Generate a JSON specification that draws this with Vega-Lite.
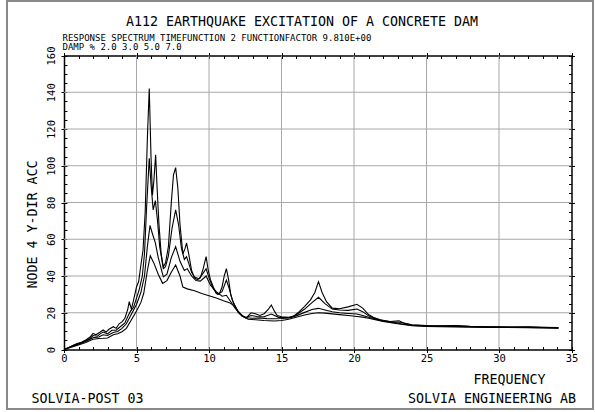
{
  "$schema": "https://vega.github.io/schema/vega-lite/v6.json",
  "autosize": {"type": "none"},
  "width": 586,
  "height": 408,
  "padding": {"left": 7, "top": 1, "right": 2, "bottom": 3},
  "background": "white",
  "config": {
    "font": "DejaVu Sans Mono",
    "view": {"stroke": "#8a8a8a", "strokeWidth": 2},
    "axis": {
      "labelFont": "DejaVu Sans Mono",
      "titleFont": "DejaVu Sans Mono",
      "labelColor": "black",
      "titleColor": "black",
      "tickColor": "black",
      "domainColor": "black",
      "domainWidth": 1.5,
      "tickWidth": 1,
      "grid": false,
      "labelOverlap": false,
      "labelFlush": false,
      "titleFontWeight": "normal",
      "titlePadding": 0
    }
  },
  "title": {
    "text": "A112 EARTHQUAKE EXCITATION OF A CONCRETE DAM",
    "anchor": "middle",
    "frame": "group",
    "offset": -38,
    "baseline": "alphabetic",
    "font": "DejaVu Sans Mono",
    "fontSize": 13.3,
    "fontWeight": "normal",
    "color": "black",
    "dx": 2
  },
  "datasets": {
    "spectra": [
      {"f": 0, "a": 0, "d": "2.0"}, {"f": 0.3, "a": 1, "d": "2.0"}, {"f": 0.6, "a": 2.2, "d": "2.0"}, {"f": 0.9, "a": 3.2, "d": "2.0"},
      {"f": 1.2, "a": 4, "d": "2.0"}, {"f": 1.5, "a": 5.2, "d": "2.0"}, {"f": 1.8, "a": 6.8, "d": "2.0"}, {"f": 2.0, "a": 8.8, "d": "2.0"},
      {"f": 2.2, "a": 8, "d": "2.0"}, {"f": 2.5, "a": 9.5, "d": "2.0"}, {"f": 2.7, "a": 10.6, "d": "2.0"}, {"f": 2.9, "a": 9.5, "d": "2.0"},
      {"f": 3.1, "a": 11, "d": "2.0"}, {"f": 3.4, "a": 12.4, "d": "2.0"}, {"f": 3.6, "a": 11.5, "d": "2.0"}, {"f": 3.8, "a": 14, "d": "2.0"},
      {"f": 4.0, "a": 15, "d": "2.0"}, {"f": 4.2, "a": 17, "d": "2.0"}, {"f": 4.4, "a": 22, "d": "2.0"}, {"f": 4.5, "a": 26, "d": "2.0"},
      {"f": 4.65, "a": 22, "d": "2.0"}, {"f": 4.8, "a": 27, "d": "2.0"}, {"f": 5.0, "a": 34, "d": "2.0"}, {"f": 5.15, "a": 37, "d": "2.0"},
      {"f": 5.25, "a": 43, "d": "2.0"}, {"f": 5.45, "a": 54, "d": "2.0"}, {"f": 5.6, "a": 75, "d": "2.0"}, {"f": 5.75, "a": 115, "d": "2.0"},
      {"f": 5.88, "a": 142, "d": "2.0"}, {"f": 6.0, "a": 105, "d": "2.0"}, {"f": 6.1, "a": 84, "d": "2.0"}, {"f": 6.2, "a": 92, "d": "2.0"},
      {"f": 6.32, "a": 106, "d": "2.0"}, {"f": 6.42, "a": 88, "d": "2.0"}, {"f": 6.55, "a": 68, "d": "2.0"}, {"f": 6.7, "a": 52, "d": "2.0"},
      {"f": 6.85, "a": 45, "d": "2.0"}, {"f": 7.0, "a": 47, "d": "2.0"}, {"f": 7.2, "a": 56, "d": "2.0"}, {"f": 7.4, "a": 80, "d": "2.0"},
      {"f": 7.55, "a": 95, "d": "2.0"}, {"f": 7.7, "a": 99, "d": "2.0"}, {"f": 7.85, "a": 88, "d": "2.0"}, {"f": 8.0, "a": 68, "d": "2.0"},
      {"f": 8.2, "a": 52, "d": "2.0"}, {"f": 8.35, "a": 55, "d": "2.0"}, {"f": 8.45, "a": 58, "d": "2.0"}, {"f": 8.6, "a": 52, "d": "2.0"},
      {"f": 8.8, "a": 43, "d": "2.0"}, {"f": 9.0, "a": 39, "d": "2.0"}, {"f": 9.2, "a": 38, "d": "2.0"}, {"f": 9.4, "a": 39, "d": "2.0"},
      {"f": 9.6, "a": 44, "d": "2.0"}, {"f": 9.8, "a": 50.5, "d": "2.0"}, {"f": 9.95, "a": 43, "d": "2.0"}, {"f": 10.1, "a": 38, "d": "2.0"},
      {"f": 10.3, "a": 34, "d": "2.0"}, {"f": 10.5, "a": 30.5, "d": "2.0"}, {"f": 10.7, "a": 30, "d": "2.0"}, {"f": 10.9, "a": 34, "d": "2.0"},
      {"f": 11.05, "a": 40, "d": "2.0"}, {"f": 11.2, "a": 44, "d": "2.0"}, {"f": 11.35, "a": 38, "d": "2.0"}, {"f": 11.5, "a": 30, "d": "2.0"},
      {"f": 11.7, "a": 25, "d": "2.0"}, {"f": 12.0, "a": 20.5, "d": "2.0"}, {"f": 12.3, "a": 18, "d": "2.0"}, {"f": 12.6, "a": 17.5, "d": "2.0"},
      {"f": 12.9, "a": 20, "d": "2.0"}, {"f": 13.2, "a": 19.5, "d": "2.0"}, {"f": 13.5, "a": 18.5, "d": "2.0"}, {"f": 13.8, "a": 19.5, "d": "2.0"},
      {"f": 14.1, "a": 22, "d": "2.0"}, {"f": 14.3, "a": 24.2, "d": "2.0"}, {"f": 14.5, "a": 21, "d": "2.0"}, {"f": 14.7, "a": 18.5, "d": "2.0"},
      {"f": 15.0, "a": 17.8, "d": "2.0"}, {"f": 15.5, "a": 17.5, "d": "2.0"}, {"f": 15.8, "a": 17.9, "d": "2.0"}, {"f": 16.2, "a": 20.5, "d": "2.0"},
      {"f": 16.6, "a": 23.5, "d": "2.0"}, {"f": 17.0, "a": 27, "d": "2.0"}, {"f": 17.3, "a": 31, "d": "2.0"}, {"f": 17.55, "a": 36.9, "d": "2.0"},
      {"f": 17.8, "a": 31, "d": "2.0"}, {"f": 18.1, "a": 26, "d": "2.0"}, {"f": 18.5, "a": 22.5, "d": "2.0"}, {"f": 19.0, "a": 22.2, "d": "2.0"},
      {"f": 19.6, "a": 23.2, "d": "2.0"}, {"f": 20.2, "a": 24.6, "d": "2.0"}, {"f": 20.6, "a": 22.5, "d": "2.0"}, {"f": 21.0, "a": 19, "d": "2.0"},
      {"f": 21.4, "a": 17.2, "d": "2.0"}, {"f": 21.8, "a": 16.2, "d": "2.0"}, {"f": 22.5, "a": 15.2, "d": "2.0"}, {"f": 23.1, "a": 15.6, "d": "2.0"},
      {"f": 23.5, "a": 14.2, "d": "2.0"}, {"f": 24.0, "a": 13.4, "d": "2.0"}, {"f": 25, "a": 13.0, "d": "2.0"}, {"f": 26, "a": 12.9, "d": "2.0"},
      {"f": 27, "a": 13.1, "d": "2.0"}, {"f": 28, "a": 12.6, "d": "2.0"}, {"f": 29, "a": 12.4, "d": "2.0"}, {"f": 30, "a": 12.3, "d": "2.0"},
      {"f": 31, "a": 12.2, "d": "2.0"}, {"f": 32, "a": 12.3, "d": "2.0"}, {"f": 33, "a": 12.1, "d": "2.0"}, {"f": 34.1, "a": 11.9, "d": "2.0"},

      {"f": 0, "a": 0, "d": "3.0"}, {"f": 0.3, "a": 0.9, "d": "3.0"}, {"f": 0.6, "a": 2, "d": "3.0"}, {"f": 0.9, "a": 2.9, "d": "3.0"},
      {"f": 1.2, "a": 3.7, "d": "3.0"}, {"f": 1.5, "a": 4.8, "d": "3.0"}, {"f": 1.8, "a": 6, "d": "3.0"}, {"f": 2.0, "a": 7.6, "d": "3.0"},
      {"f": 2.3, "a": 7.2, "d": "3.0"}, {"f": 2.5, "a": 8.5, "d": "3.0"}, {"f": 2.7, "a": 9.5, "d": "3.0"}, {"f": 3.0, "a": 8.5, "d": "3.0"},
      {"f": 3.3, "a": 10.5, "d": "3.0"}, {"f": 3.6, "a": 10.5, "d": "3.0"}, {"f": 3.9, "a": 12.5, "d": "3.0"}, {"f": 4.2, "a": 14.5, "d": "3.0"},
      {"f": 4.4, "a": 18, "d": "3.0"}, {"f": 4.6, "a": 21, "d": "3.0"}, {"f": 4.8, "a": 23, "d": "3.0"}, {"f": 5.0, "a": 28, "d": "3.0"},
      {"f": 5.2, "a": 33, "d": "3.0"}, {"f": 5.4, "a": 40, "d": "3.0"}, {"f": 5.55, "a": 52, "d": "3.0"}, {"f": 5.7, "a": 78, "d": "3.0"},
      {"f": 5.88, "a": 104, "d": "3.0"}, {"f": 6.0, "a": 90, "d": "3.0"}, {"f": 6.15, "a": 76, "d": "3.0"}, {"f": 6.3, "a": 81, "d": "3.0"},
      {"f": 6.45, "a": 70, "d": "3.0"}, {"f": 6.6, "a": 56, "d": "3.0"}, {"f": 6.85, "a": 44, "d": "3.0"}, {"f": 7.0, "a": 45, "d": "3.0"},
      {"f": 7.2, "a": 51, "d": "3.0"}, {"f": 7.45, "a": 66, "d": "3.0"}, {"f": 7.7, "a": 76, "d": "3.0"}, {"f": 7.9, "a": 68, "d": "3.0"},
      {"f": 8.1, "a": 55, "d": "3.0"}, {"f": 8.3, "a": 49, "d": "3.0"}, {"f": 8.45, "a": 50.5, "d": "3.0"}, {"f": 8.6, "a": 47, "d": "3.0"},
      {"f": 8.8, "a": 42, "d": "3.0"}, {"f": 9.0, "a": 39.5, "d": "3.0"}, {"f": 9.3, "a": 38.5, "d": "3.0"}, {"f": 9.55, "a": 41, "d": "3.0"},
      {"f": 9.8, "a": 44, "d": "3.0"}, {"f": 10.0, "a": 39, "d": "3.0"}, {"f": 10.3, "a": 33, "d": "3.0"}, {"f": 10.6, "a": 30, "d": "3.0"},
      {"f": 10.9, "a": 31.5, "d": "3.0"}, {"f": 11.2, "a": 37.8, "d": "3.0"}, {"f": 11.4, "a": 33, "d": "3.0"}, {"f": 11.6, "a": 27, "d": "3.0"},
      {"f": 12.0, "a": 20.5, "d": "3.0"}, {"f": 12.5, "a": 17.2, "d": "3.0"}, {"f": 12.9, "a": 18.5, "d": "3.0"}, {"f": 13.3, "a": 18, "d": "3.0"},
      {"f": 13.8, "a": 17.8, "d": "3.0"}, {"f": 14.3, "a": 19.3, "d": "3.0"}, {"f": 14.8, "a": 17.5, "d": "3.0"}, {"f": 15.5, "a": 17.3, "d": "3.0"},
      {"f": 16.0, "a": 18.8, "d": "3.0"}, {"f": 16.6, "a": 22, "d": "3.0"}, {"f": 17.1, "a": 25.5, "d": "3.0"}, {"f": 17.55, "a": 28.4, "d": "3.0"},
      {"f": 18.0, "a": 25, "d": "3.0"}, {"f": 18.5, "a": 22, "d": "3.0"}, {"f": 19.0, "a": 21.5, "d": "3.0"}, {"f": 19.6, "a": 21.3, "d": "3.0"},
      {"f": 20.2, "a": 22, "d": "3.0"}, {"f": 20.6, "a": 20.6, "d": "3.0"}, {"f": 21.0, "a": 18.3, "d": "3.0"}, {"f": 21.5, "a": 16.8, "d": "3.0"},
      {"f": 22.0, "a": 15.6, "d": "3.0"}, {"f": 22.8, "a": 14.8, "d": "3.0"}, {"f": 23.2, "a": 14.8, "d": "3.0"}, {"f": 24.0, "a": 13.3, "d": "3.0"},
      {"f": 25, "a": 12.9, "d": "3.0"}, {"f": 26, "a": 12.8, "d": "3.0"}, {"f": 27, "a": 12.9, "d": "3.0"}, {"f": 28, "a": 12.5, "d": "3.0"},
      {"f": 30, "a": 12.2, "d": "3.0"}, {"f": 32, "a": 12.2, "d": "3.0"}, {"f": 34.1, "a": 11.8, "d": "3.0"},

      {"f": 0, "a": 0, "d": "5.0"}, {"f": 0.5, "a": 1.5, "d": "5.0"}, {"f": 1.0, "a": 2.8, "d": "5.0"}, {"f": 1.5, "a": 4.3, "d": "5.0"},
      {"f": 2.0, "a": 6.4, "d": "5.0"}, {"f": 2.4, "a": 6.8, "d": "5.0"}, {"f": 2.7, "a": 8, "d": "5.0"}, {"f": 3.0, "a": 7.6, "d": "5.0"},
      {"f": 3.4, "a": 9.3, "d": "5.0"}, {"f": 3.7, "a": 9.8, "d": "5.0"}, {"f": 4.0, "a": 11.5, "d": "5.0"}, {"f": 4.3, "a": 14, "d": "5.0"},
      {"f": 4.6, "a": 18.5, "d": "5.0"}, {"f": 5.0, "a": 24.5, "d": "5.0"}, {"f": 5.3, "a": 31, "d": "5.0"}, {"f": 5.55, "a": 40, "d": "5.0"},
      {"f": 5.75, "a": 56, "d": "5.0"}, {"f": 5.93, "a": 67.5, "d": "5.0"}, {"f": 6.1, "a": 63, "d": "5.0"}, {"f": 6.3, "a": 58, "d": "5.0"},
      {"f": 6.5, "a": 50, "d": "5.0"}, {"f": 6.85, "a": 39.5, "d": "5.0"}, {"f": 7.1, "a": 41, "d": "5.0"}, {"f": 7.4, "a": 50, "d": "5.0"},
      {"f": 7.7, "a": 56, "d": "5.0"}, {"f": 8.0, "a": 48, "d": "5.0"}, {"f": 8.3, "a": 43, "d": "5.0"}, {"f": 8.5, "a": 44, "d": "5.0"},
      {"f": 8.8, "a": 40, "d": "5.0"}, {"f": 9.1, "a": 37.5, "d": "5.0"}, {"f": 9.4, "a": 37.2, "d": "5.0"}, {"f": 9.8, "a": 40, "d": "5.0"},
      {"f": 10.1, "a": 35, "d": "5.0"}, {"f": 10.5, "a": 31.5, "d": "5.0"}, {"f": 10.9, "a": 29, "d": "5.0"}, {"f": 11.2, "a": 29.5, "d": "5.0"},
      {"f": 11.5, "a": 26, "d": "5.0"}, {"f": 11.8, "a": 22.5, "d": "5.0"}, {"f": 12.1, "a": 19.5, "d": "5.0"}, {"f": 12.5, "a": 17.3, "d": "5.0"},
      {"f": 13.0, "a": 17, "d": "5.0"}, {"f": 13.5, "a": 17.2, "d": "5.0"}, {"f": 14.0, "a": 16.8, "d": "5.0"}, {"f": 14.5, "a": 16.7, "d": "5.0"},
      {"f": 15.0, "a": 16.9, "d": "5.0"}, {"f": 15.5, "a": 17.2, "d": "5.0"}, {"f": 16.0, "a": 18.3, "d": "5.0"}, {"f": 16.6, "a": 20.2, "d": "5.0"},
      {"f": 17.1, "a": 21.8, "d": "5.0"}, {"f": 17.55, "a": 22.4, "d": "5.0"}, {"f": 18.0, "a": 21.5, "d": "5.0"}, {"f": 18.5, "a": 20.5, "d": "5.0"},
      {"f": 19.0, "a": 20.0, "d": "5.0"}, {"f": 19.6, "a": 19.6, "d": "5.0"}, {"f": 20.2, "a": 19.3, "d": "5.0"}, {"f": 20.6, "a": 18.5, "d": "5.0"},
      {"f": 21.0, "a": 17.5, "d": "5.0"}, {"f": 22.0, "a": 15.5, "d": "5.0"}, {"f": 23.0, "a": 14.3, "d": "5.0"}, {"f": 24.0, "a": 13.1, "d": "5.0"},
      {"f": 25, "a": 12.8, "d": "5.0"}, {"f": 26, "a": 12.6, "d": "5.0"}, {"f": 27, "a": 12.6, "d": "5.0"}, {"f": 28, "a": 12.4, "d": "5.0"},
      {"f": 30, "a": 12.1, "d": "5.0"}, {"f": 32, "a": 12.0, "d": "5.0"}, {"f": 34.1, "a": 11.7, "d": "5.0"},

      {"f": 0, "a": 0, "d": "7.0"}, {"f": 0.5, "a": 1.3, "d": "7.0"}, {"f": 1.0, "a": 2.5, "d": "7.0"}, {"f": 1.5, "a": 3.8, "d": "7.0"},
      {"f": 2.0, "a": 5.6, "d": "7.0"}, {"f": 2.4, "a": 6, "d": "7.0"}, {"f": 2.7, "a": 6.1, "d": "7.0"}, {"f": 3.0, "a": 6.3, "d": "7.0"},
      {"f": 3.4, "a": 8, "d": "7.0"}, {"f": 3.7, "a": 8.6, "d": "7.0"}, {"f": 4.0, "a": 9.7, "d": "7.0"}, {"f": 4.3, "a": 11.5, "d": "7.0"},
      {"f": 4.6, "a": 15.5, "d": "7.0"}, {"f": 5.0, "a": 21, "d": "7.0"}, {"f": 5.3, "a": 25.5, "d": "7.0"}, {"f": 5.5, "a": 30.6, "d": "7.0"},
      {"f": 5.75, "a": 43, "d": "7.0"}, {"f": 5.95, "a": 51, "d": "7.0"}, {"f": 6.2, "a": 47, "d": "7.0"}, {"f": 6.5, "a": 41, "d": "7.0"},
      {"f": 6.8, "a": 36, "d": "7.0"}, {"f": 7.1, "a": 37.5, "d": "7.0"}, {"f": 7.4, "a": 42, "d": "7.0"}, {"f": 7.7, "a": 46, "d": "7.0"},
      {"f": 8.0, "a": 40, "d": "7.0"}, {"f": 8.2, "a": 34, "d": "7.0"}, {"f": 8.5, "a": 33, "d": "7.0"}, {"f": 9.0, "a": 32, "d": "7.0"},
      {"f": 9.5, "a": 30.5, "d": "7.0"}, {"f": 10.0, "a": 29.3, "d": "7.0"}, {"f": 10.5, "a": 28, "d": "7.0"}, {"f": 11.0, "a": 26.5, "d": "7.0"},
      {"f": 11.4, "a": 25.5, "d": "7.0"}, {"f": 11.7, "a": 24, "d": "7.0"}, {"f": 12.0, "a": 21, "d": "7.0"}, {"f": 12.3, "a": 18.2, "d": "7.0"},
      {"f": 12.7, "a": 16.5, "d": "7.0"}, {"f": 13.2, "a": 16.2, "d": "7.0"}, {"f": 13.8, "a": 15.8, "d": "7.0"}, {"f": 14.5, "a": 15.5, "d": "7.0"},
      {"f": 15.0, "a": 15.8, "d": "7.0"}, {"f": 15.5, "a": 16.5, "d": "7.0"}, {"f": 16.0, "a": 17.6, "d": "7.0"}, {"f": 16.6, "a": 18.8, "d": "7.0"},
      {"f": 17.1, "a": 19.6, "d": "7.0"}, {"f": 17.55, "a": 20, "d": "7.0"}, {"f": 18.0, "a": 19.8, "d": "7.0"}, {"f": 18.5, "a": 19.4, "d": "7.0"},
      {"f": 19.0, "a": 19.0, "d": "7.0"}, {"f": 19.6, "a": 18.5, "d": "7.0"}, {"f": 20.2, "a": 18.0, "d": "7.0"}, {"f": 20.6, "a": 17.6, "d": "7.0"},
      {"f": 21.0, "a": 17.0, "d": "7.0"}, {"f": 22.0, "a": 15.3, "d": "7.0"}, {"f": 23.0, "a": 14.0, "d": "7.0"}, {"f": 24.0, "a": 12.9, "d": "7.0"},
      {"f": 25, "a": 12.6, "d": "7.0"}, {"f": 26, "a": 12.4, "d": "7.0"}, {"f": 28, "a": 12.2, "d": "7.0"}, {"f": 30, "a": 12.0, "d": "7.0"},
      {"f": 32, "a": 11.9, "d": "7.0"}, {"f": 34.1, "a": 11.6, "d": "7.0"}
    ],
    "corners": [{"f": 0, "a": 0}, {"f": 35, "a": 160}]
  },
  "layer": [
    {
      "data": {"values": [{"g": 5}, {"g": 10}, {"g": 15}, {"g": 20}, {"g": 25}, {"g": 30}]},
      "mark": {"type": "rule", "color": "#a8a8a8", "strokeWidth": 1},
      "encoding": {
        "x": {"field": "g", "type": "quantitative", "axis": null,
              "scale": {"domain": [0, 35], "range": [57, 564.5], "nice": false, "zero": false}},
        "y": {"datum": 0, "type": "quantitative", "axis": null,
              "scale": {"domain": [0, 160], "range": [348.5, 54.5], "nice": false}},
        "y2": {"datum": 160}
      }
    },
    {
      "data": {"values": [{"g": 20}, {"g": 40}, {"g": 60}, {"g": 80}, {"g": 100}, {"g": 120}, {"g": 140}]},
      "mark": {"type": "rule", "color": "#a8a8a8", "strokeWidth": 1},
      "encoding": {
        "y": {"field": "g", "type": "quantitative", "axis": null,
              "scale": {"domain": [0, 160], "range": [348.5, 54.5], "nice": false}},
        "x": {"datum": 0, "type": "quantitative", "axis": null,
              "scale": {"domain": [0, 35], "range": [57, 564.5], "nice": false, "zero": false}},
        "x2": {"datum": 35}
      }
    },
    {
      "data": {"name": "spectra"},
      "mark": {"type": "line", "color": "black", "strokeWidth": 1.1},
      "encoding": {
        "x": {
          "field": "f", "type": "quantitative",
          "scale": {"domain": [0, 35], "range": [57, 564.5], "nice": false, "zero": false},
          "axis": {
            "orient": "bottom", "offset": -59.5,
            "values": [0, 5, 10, 15, 20, 25, 30, 35],
            "tickSize": 3, "labelFontSize": 10.5, "labelPadding": 1,
            "title": "FREQUENCY", "titleFontSize": 13.3,
            "titleX": 538, "titleY": 33.5, "titleAngle": 0,
            "titleAlign": "right", "titleBaseline": "alphabetic"
          }
        },
        "y": {
          "field": "a", "type": "quantitative",
          "scale": {"domain": [0, 160], "range": [348.5, 54.5], "nice": false},
          "axis": {
            "orient": "left", "offset": -57,
            "values": [0, 20, 40, 60, 80, 100, 120, 140, 160],
            "tickSize": 3, "labelFontSize": 10.5, "labelAngle": 270,
            "labelAlign": "center", "labelBaseline": "bottom", "labelPadding": 4.5,
            "title": "NODE 4 Y-DIR ACC", "titleFontSize": 13.3,
            "titleX": -32, "titleY": 223, "titleAngle": 270,
            "titleAlign": "center", "titleBaseline": "middle"
          }
        },
        "detail": {"field": "d", "type": "nominal"}
      }
    },
    {
      "data": {"name": "corners"},
      "mark": {"type": "point", "opacity": 0},
      "encoding": {
        "x": {
          "field": "f", "type": "quantitative",
          "scale": {"domain": [0, 35], "range": [57, 564.5], "nice": false, "zero": false},
          "axis": {
            "orient": "top", "offset": -54.5,
            "values": [0,1,2,3,4,5,6,7,8,9,10,11,12,13,14,15,16,17,18,19,20,21,22,23,24,25,26,27,28,29,30,31,32,33,34,35],
            "tickSize": -3, "labels": false,
            "title": ["RESPONSE SPECTRUM TIMEFUNCTION 2 FUNCTIONFACTOR 9.810E+00", "DAMP % 2.0 3.0 5.0 7.0"],
            "titleFontSize": 9, "titleLineHeight": 9,
            "titleX": 55, "titleY": -15.5, "titleAngle": 0,
            "titleAlign": "left", "titleBaseline": "alphabetic"
          }
        },
        "y": {
          "field": "a", "type": "quantitative",
          "scale": {"domain": [0, 160], "range": [348.5, 54.5], "nice": false},
          "axis": {
            "orient": "right", "offset": -21.5,
            "values": [0,5,10,15,20,25,30,35,40,45,50,55,60,65,70,75,80,85,90,95,100,105,110,115,120,125,130,135,140,145,150,155,160],
            "tickSize": -3, "labels": false,
            "title": "SOLVIA ENGINEERING AB", "titleFontSize": 13.3,
            "titleX": 4, "titleY": 401, "titleAngle": 0,
            "titleAlign": "right", "titleBaseline": "alphabetic"
          }
        }
      }
    },
    {
      "data": {"name": "corners"},
      "mark": {"type": "point", "opacity": 0},
      "encoding": {
        "x": {
          "field": "f", "type": "quantitative",
          "scale": {"domain": [0, 35], "range": [57, 564.5], "nice": false, "zero": false},
          "axis": {
            "orient": "bottom", "offset": -59.5,
            "values": [0,1,2,3,4,5,6,7,8,9,10,11,12,13,14,15,16,17,18,19,20,21,22,23,24,25,26,27,28,29,30,31,32,33,34,35],
            "tickSize": -3, "labels": false, "domain": false,
            "title": "SOLVIA-POST 03", "titleFontSize": 13.3,
            "titleX": 24, "titleY": 52.5, "titleAngle": 0,
            "titleAlign": "left", "titleBaseline": "alphabetic"
          }
        },
        "y": {
          "field": "a", "type": "quantitative",
          "scale": {"domain": [0, 160], "range": [348.5, 54.5], "nice": false},
          "axis": {
            "orient": "left", "offset": -57,
            "values": [0,5,10,15,20,25,30,35,40,45,50,55,60,65,70,75,80,85,90,95,100,105,110,115,120,125,130,135,140,145,150,155,160],
            "tickSize": -3, "labels": false, "domain": false, "title": null
          }
        }
      }
    },
    {
      "data": {"name": "corners"},
      "mark": {"type": "point", "opacity": 0},
      "encoding": {
        "x": {
          "field": "f", "type": "quantitative",
          "scale": {"domain": [0, 35], "range": [57, 564.5], "nice": false, "zero": false},
          "axis": {
            "orient": "top", "offset": -54.5,
            "values": [0, 5, 10, 15, 20, 25, 30, 35],
            "tickSize": 3, "labels": false, "domain": false, "title": null
          }
        },
        "y": {
          "field": "a", "type": "quantitative",
          "scale": {"domain": [0, 160], "range": [348.5, 54.5], "nice": false},
          "axis": {
            "orient": "right", "offset": -21.5,
            "values": [0, 20, 40, 60, 80, 100, 120, 140, 160],
            "tickSize": 3, "labels": false, "domain": false, "title": null
          }
        }
      }
    }
  ],
  "resolve": {"axis": {"x": "independent", "y": "independent"}}
}
